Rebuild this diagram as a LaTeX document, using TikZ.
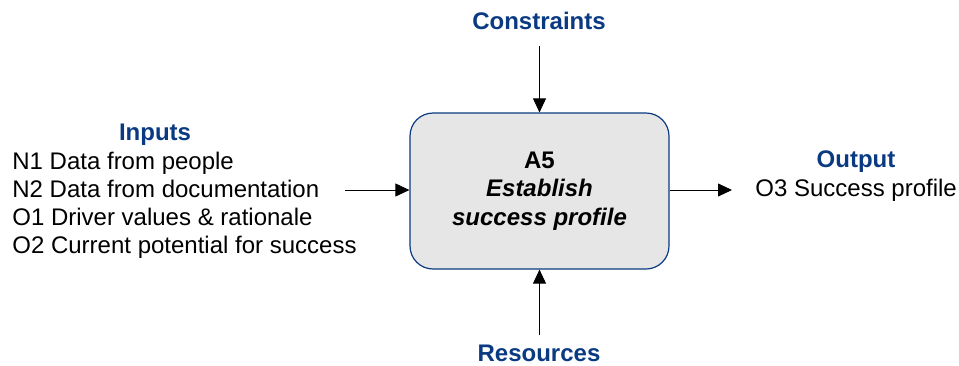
\documentclass[tikz,border=0pt]{standalone}
\usepackage{fontspec}
\setmainfont{Liberation Sans}
\usepackage{xcolor}
\usetikzlibrary{arrows.meta}
\definecolor{navy}{RGB}{10,58,130}
\definecolor{boxgray}{RGB}{230,230,230}

\begin{document}
\begin{tikzpicture}[x=1pt, y=-1pt, line width=0.8pt,
  font=\fontsize{24}{28.5}\selectfont,
  arr/.style={-{Triangle[length=14pt,width=13pt]}},
  head/.style={font=\fontsize{24}{28.5}\selectfont\bfseries, text=navy, inner sep=0pt},
  item/.style={anchor=base west, inner sep=0pt}]
\useasboundingbox (0,0) rectangle (959,365);
\node[draw=navy, line width=1.2pt, fill=boxgray, rounded corners=23pt, minimum width=259pt, minimum height=156pt, align=center] (A5) at (539.5,191) {\textbf{A5}\\\textbf{\textit{Establish}}\\\textbf{\textit{success profile}}};

\node[head, anchor=base] (Con) at (539,29) {Constraints};
\node[head, anchor=base] (Res) at (539,361) {Resources};
\node[head, anchor=base] (In) at (155,140) {Inputs};
\node[head, anchor=base] (Out) at (856,167) {Output};

\node[item] (N1) at (12,169) {N1 Data from people};
\node[item] (N2) at (12,197) {N2 Data from documentation};
\node[item] (O1) at (12,225) {O1 Driver values \& rationale};
\node[item] (O2) at (12,253) {O2 Current potential for success};
\node[item] (O3) at (755,196) {O3 Success profile};

\coordinate (C) at (539.5,46);
\coordinate (R) at (539.5,335);
\coordinate (L) at (345,190);
\coordinate (E) at (732,190);

\draw[arr] (C) to (A5.north);
\draw[arr] (R) to (A5.south);
\draw[arr] (L) to (L -| A5.west);
\draw[arr] (E -| A5.east) to (E);
\end{tikzpicture}
\end{document}
